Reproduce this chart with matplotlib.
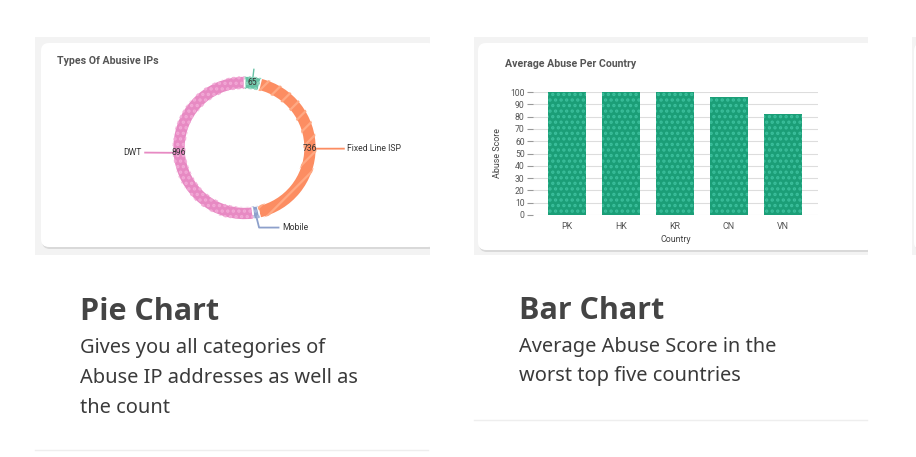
import numpy as np
import matplotlib
matplotlib.use("Agg")
import matplotlib.pyplot as plt
from matplotlib.patches import FancyBboxPatch, Rectangle
from matplotlib.transforms import Bbox

# ---- data ----
pie_labels = ['', 'Fixed Line ISP', 'Mobile', 'DWT']
pie_values = [65, 736, 25, 896]
pie_colors = ['#66c2a5', '#fc8d62', '#8da0cb', '#e78ac3']
pie_hatch_colors = ['#8fd6bd', '#ffa983', '#a9b8dd', '#f2a9d6']
pie_hatches = ['...', '//', '...', '...']

countries = ['PK', 'HK', 'KR', 'CN', 'VN']
abuse_scores = [100, 100, 100, 96, 82]
score_ticks = list(range(0, 101, 10))

W, H = 916, 457
plt.rcParams.update({"font.family": ["Roboto", "DejaVu Sans"], "hatch.linewidth": 1.6})
fig = plt.figure(figsize=(W/100, H/100), dpi=100)
fig.patch.set_facecolor('white')

def fax(x0, y0, x1, y1):
    # pixel box (top-left origin) -> figure fraction rect
    return [x0/W, 1 - y1/H, (x1 - x0)/W, (y1 - y0)/H]

base = fig.add_axes([0, 0, 1, 1])
base.set_xlim(0, W); base.set_ylim(H, 0); base.axis('off')

# card image backgrounds + white rounded cards
for gx0, gx1, cx0, cx1, cy1 in [(35, 430, 41, 436, 248), (474, 868, 478, 875, 251), (912, 916, 914, 950, 251)]:
    base.add_patch(Rectangle((gx0, 37), gx1 - gx0, 218, fc='#f3f3f3', ec='none', zorder=0))
    clip = base.transData.transform_bbox(Bbox([[gx0, 37], [gx1, 255]]))
    sh = FancyBboxPatch((cx0 + 1, 45), cx1 - cx0, cy1 - 44, boxstyle='round,pad=0,rounding_size=8',
                        fc='#d9d9d9', ec='none', zorder=1)
    base.add_patch(sh)
    sh.set_clip_box(clip)
    card = FancyBboxPatch((cx0, 43), cx1 - cx0, cy1 - 44, boxstyle='round,pad=0,rounding_size=8',
                          fc='white', ec='none', zorder=2)
    base.add_patch(card)
    card.set_clip_box(clip)

# page text
head_font = ["Open Sans", "DejaVu Sans"]
page_font = ["Noto Sans", "DejaVu Sans"]
base.text(80, 320, 'Pie Chart', fontsize=22, fontweight='bold', color='#444444', family=head_font)
for i, line in enumerate(['Gives you all categories of', 'Abuse IP addresses as well as', 'the count']):
    base.text(80, 353 + 30*i, line, fontsize=14.4, color='#3a3a3a', family=page_font)
base.text(519, 319, 'Bar Chart', fontsize=22, fontweight='bold', color='#444444', family=head_font)
for i, line in enumerate(['Average Abuse Score in the', 'worst top five countries']):
    base.text(519, 352 + 29*i, line, fontsize=14.4, color='#3a3a3a', family=page_font)
base.plot([35, 428], [450, 450], color='#eeeeee', lw=1)
base.plot([474, 867], [420, 420], color='#eeeeee', lw=1)

# chart titles
base.text(57, 64, 'Types Of Abusive IPs', fontsize=7.6, fontweight='bold', color='#555555', zorder=5)
base.text(505, 67, 'Average Abuse Per Country', fontsize=7.6, fontweight='bold', color='#555555', zorder=5)

# ---- donut ----
R = 72.0
cx, cy = 244.5, 148
ax1 = fig.add_axes(fax(41, 42, 429, 248))
ax1.set_zorder(3)
ring = dict(width=13/R)
wedges, _ = ax1.pie(pie_values, colors=pie_colors, startangle=90, counterclock=False,
                    wedgeprops=dict(ring, edgecolor='white', linewidth=1.2))
hw, _ = ax1.pie(pie_values, colors=['none']*4, startangle=90, counterclock=False,
                hatch=pie_hatches, wedgeprops=dict(ring, linewidth=0))
for w, hc in zip(hw, pie_hatch_colors):
    w.set_edgecolor(hc)
    w.set_facecolor('none')
ax1.set_xlim(-(cx - 41)/R, (429 - cx)/R)
ax1.set_ylim(-(248 - cy)/R, (cy - 42)/R)
ax1.set_aspect('equal')

for w, v, lab, col in zip(wedges, pie_values, pie_labels, pie_colors):
    mid = np.deg2rad((w.theta1 + w.theta2) / 2)
    ux, uy = np.cos(mid), np.sin(mid)
    if v >= 50:
        ax1.text(0.91*ux, 0.91*uy, str(v), ha='center', va='center', fontsize=6.2, color='#333333')
    if abs(ux) > 0.9:
        s = np.sign(ux)
        ax1.plot([ux, 1.04*ux, s*1.38], [uy, 1.04*uy, uy], color=col, lw=1.3)
        ax1.text(s*1.43, uy, lab, ha='left' if s > 0 else 'right', va='center', fontsize=6.2, color='#333333')
    elif uy < 0:
        ax1.plot([ux, ux + 0.03, ux + 0.03, ux + 0.3], [uy, uy - 0.12, uy - 0.12, uy - 0.12],
                 color=col, lw=1.3)
        ax1.text(ux + 0.35, uy - 0.12, lab, ha='left', va='center', fontsize=6.2, color='#333333')
    else:
        ax1.plot([ux, 1.1*ux], [uy, 1.1*uy], color=col, lw=1.0)

# ---- bar chart ----
ax2 = fig.add_axes(fax(533, 92, 818, 215))
ax2.set_zorder(3)
x = np.arange(len(countries))
ax2.bar(x, abuse_scores, width=0.7, color='#1b9e77', zorder=2)
ax2.bar(x, abuse_scores, width=0.7, color='none', edgecolor='#3bbf9c', linewidth=0,
        hatch='...', zorder=3)
ax2.set_xlim(-0.63, 4.65)
ax2.set_ylim(0, 100)
ax2.set_yticks(score_ticks)
ax2.set_xticks(x, countries)
ax2.grid(axis='y', color='#dddddd', lw=0.8, zorder=0)
ax2.set_axisbelow(True)
for s in ax2.spines.values():
    s.set_visible(False)
ax2.tick_params(axis='y', length=4, width=0.8, color='#999999', labelsize=6.2, labelcolor='#555555', pad=2)
ax2.tick_params(axis='x', length=0, labelsize=6.4, labelcolor='#555555', pad=5)
ax2.set_xlabel('Country', fontsize=6.4, color='#444444', labelpad=3)
ax2.set_ylabel('Abuse Score', fontsize=6.4, color='#444444', labelpad=6)
ax2.set_facecolor('none')

fig.savefig('out.png', dpi=100)
